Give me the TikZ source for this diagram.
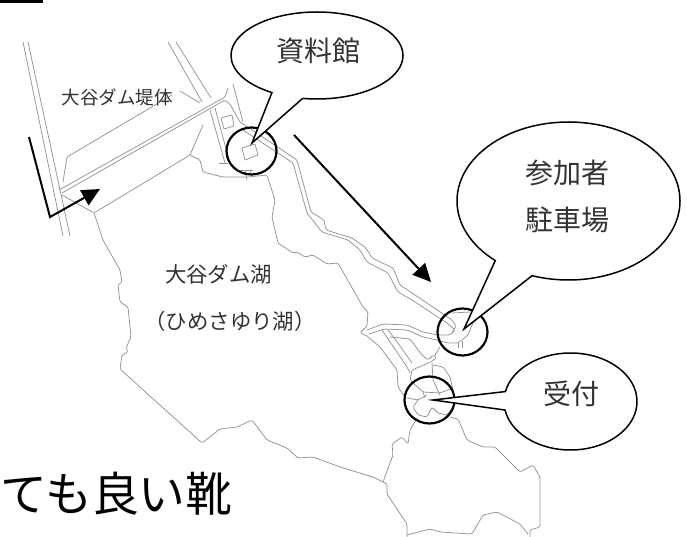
\documentclass[tikz,border=0pt]{standalone}
\usepackage{fontspec}
\setmainfont{Noto Sans CJK JP}
\usetikzlibrary{shapes.callouts,shapes.geometric,arrows.meta}
\tikzset{
  mapline/.style={draw=black!42,line width=0.75pt,rounded corners=1.5pt,line join=round},
  spot/.style={draw=black,line width=2.2pt,ellipse,minimum width=50pt,minimum height=47pt,inner sep=0pt},
  bubble/.style={ellipse callout,draw=black,fill=white,line width=1.5pt,inner sep=0pt,outer sep=0pt,callout pointer arc=22},
  guide/.style={draw=black,line width=2pt,line join=miter,-{Triangle[length=18pt,width=17pt]}},
  lbl/.style={inner sep=0pt,text=black!80}
}
\begin{document}
\begin{tikzpicture}[x=1pt,y=-1pt]
\useasboundingbox (0,0) rectangle (687,537);
\fill[white] (0,0) rectangle (687,537);
\fill[black] (0,0) rectangle (43,3);
% roads and dam
\draw[mapline] (23,42) -- (63,236);
\draw[mapline] (28,42) -- (70,236);
\draw[mapline] (168,42) -- (202,102);
\draw[mapline] (176,42) -- (211,98);
\draw[mapline] (59,190) -- (225,97) -- (228,88);
\draw[mapline] (62,193) -- (225,100) -- (230,104) -- (240,122);
\draw[mapline] (233,84) -- (243,122);
\draw[mapline] (63,182) -- (67,157) -- (172,95);
\draw[mapline] (180,91) -- (200,103);
\draw[mapline] (210,110) -- (225,163);
\draw[mapline] (215,108) -- (229,160);
\draw[mapline] (219,163) -- (228,163);
\draw[mapline] (62,195) -- (94,213) -- (190,155) -- (203,125);
\draw[mapline,rounded corners=0pt] (221,118) -- (232,115) -- (234,126) -- (224,129) -- cycle;
\draw[mapline,rounded corners=0pt] (242,148) -- (255,144) -- (258,155) -- (245,160) -- cycle;
\draw[mapline] (240,170) -- (253,170);
\draw[mapline] (245,170) -- (247,180);
\draw[mapline] (250,170) -- (252,176);
% road to the parking
\draw[mapline] (240,122) -- (297,160) -- (311,212) -- (324,220) -- (326,230) -- (352,238) -- (366,248) -- (372,258) -- (393,268) -- (400,285) -- (415,295) -- (452,320) -- (456,326) -- (452,333);
\draw[mapline] (243,130) -- (293,163) -- (307,213) -- (322,232) -- (348,240) -- (360,250) -- (367,262) -- (388,273) -- (398,292) -- (412,300) -- (447,323);
% lake shore
\draw[mapline] (190,155) -- (200,160) -- (203,172) -- (223,177) -- (248,177) -- (267,175) -- (275,200) -- (272,217) -- (278,243) -- (293,253) -- (297,252) -- (305,257) -- (313,255) -- (327,264) -- (338,263) -- (363,307) -- (368,312) -- (367,326) -- (360,333) -- (367,336);
\draw[mapline] (94,213) -- (103,240) -- (120,270) -- (122,282) -- (118,285) -- (120,302) -- (128,307) -- (131,337) -- (126,348) -- (128,352) -- (122,355) -- (120,369) -- (202,443) -- (220,429) -- (237,427) -- (252,420) -- (267,440) -- (287,448) -- (298,458) -- (313,457) -- (340,467) -- (373,477) -- (387,484) -- (387,494) -- (407,524) -- (407,537);
% parking and reception area
\draw[mapline] (367,330) -- (383,324) -- (407,325) -- (423,332) -- (437,335) -- (450,335) -- (455,330) -- (447,323);
\draw[mapline] (369,334) -- (384,329) -- (407,330) -- (423,337) -- (437,340) -- (448,343) -- (458,343) -- (468,335) -- (473,323) -- (472,313);
\draw[mapline] (452,313) -- (470,312);
\draw[mapline] (458,343) -- (458,348);
\draw[mapline] (462,341) -- (462,348);
\draw[mapline] (367,336) -- (380,347) -- (397,370) -- (398,387) -- (405,397);
\draw[mapline] (382,330) -- (407,367) -- (410,373);
\draw[mapline] (388,330) -- (398,343) -- (412,363);
\draw[mapline] (390,337) -- (410,339) -- (422,355) -- (428,360) -- (433,355) -- (437,357) -- (431,362) -- (412,370) -- (410,380) -- (413,383) -- (423,392) -- (440,393) -- (453,388);
\draw[mapline] (440,347) -- (435,355);
\draw[mapline] (433,365) -- (443,367) -- (450,377) -- (453,390);
\draw[mapline] (432,363) -- (433,380) -- (440,395);
\draw[mapline] (423,392) -- (425,398);
\draw[mapline] (407,398) -- (418,400) -- (427,395);
\draw[mapline] (418,400) -- (413,407) -- (418,415) -- (427,417) -- (432,407) -- (438,413) -- (447,415) -- (453,407);
% south shore
\draw[mapline] (417,418) -- (410,430) -- (408,444) -- (402,437) -- (392,444) -- (393,455) -- (383,482);
\draw[mapline] (450,417) -- (458,419) -- (467,440) -- (483,447) -- (495,447) -- (520,472) -- (533,465) -- (540,477) -- (540,527) -- (530,530) -- (530,537);
\draw[mapline] (407,535) -- (430,529) -- (440,532) -- (472,534) -- (483,515) -- (497,512) -- (520,524) -- (528,534);
% markers
\coordinate (tipA) at (252,143);
\coordinate (tipB) at (464,329);
\coordinate (tipC) at (433,400);
\node[spot] (spotA) at (251.5,151) {};
\node[spot] (spotB) at (462.5,332) {};
\node[spot] (spotC) at (429.5,400) {};
\node[bubble,minimum width=172pt,minimum height=87pt,callout absolute pointer={(tipA)}] (bubA) at (317,55.5) {};
\node[bubble,minimum width=223pt,minimum height=158pt,callout absolute pointer={(tipB)}] (bubB) at (568.5,201) {};
\node[bubble,minimum width=133pt,minimum height=97pt,callout absolute pointer={(tipC)}] (bubC) at (570.5,401.5) {};
% arrows
\coordinate (a1) at (29,137);
\coordinate (a2) at (50,217);
\coordinate (a3) at (100,189);
\coordinate (b1) at (294,135);
\coordinate (b2) at (431,282);
\draw[guide] (a1) -- (a2) -- (a3);
\draw[guide] (b1) -- (b2);
% labels
\node[lbl,font=\fontsize{28}{28}\selectfont] (t1) at (318,51) {資料館};
\node[lbl,font=\fontsize{28}{28}\selectfont] (t2) at (567.5,173) {参加者};
\node[lbl,font=\fontsize{28}{28}\selectfont] (t3) at (567.5,220) {駐車場};
\node[lbl,font=\fontsize{28}{28}\selectfont] (t4) at (571,394) {受付};
\node[lbl,font=\fontsize{18.5}{18.5}\selectfont] (t5) at (117,97) {大谷ダム堤体};
\node[lbl,font=\fontsize{21.4}{21.4}\selectfont] (t6) at (218.5,274) {大谷ダム湖};
\node[lbl,font=\fontsize{21.4}{21.4}\selectfont] (t7) at (230,321) {（ひめさゆり湖）};
\node[lbl,anchor=west,text=black,font=\fontsize{46.8}{46.8}\selectfont] (t8) at (0.5,494) {ても良い靴};
\end{tikzpicture}
\end{document}
